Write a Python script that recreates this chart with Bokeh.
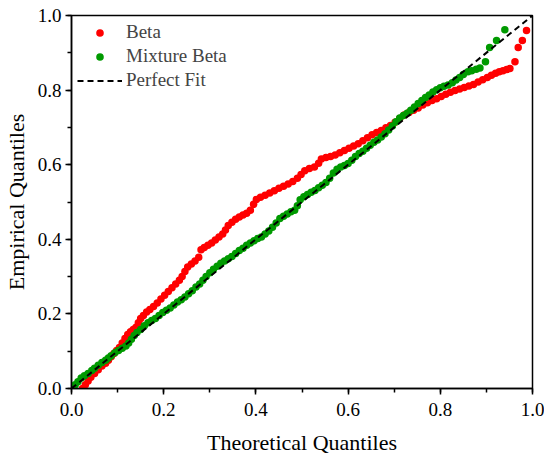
from bokeh.plotting import figure
from bokeh.models import Range1d, SingleIntervalTicker, NumeralTickFormatter, Legend, LegendItem
from bokeh.embed import file_html
from bokeh.resources import INLINE

beta_x = [0.024,0.030,0.036,0.042,0.050,0.058,0.066,0.074,0.080,0.086,0.092,0.098,0.104,0.110,0.116,0.122,0.128,0.134,0.140,0.145,0.150,0.156,0.163,0.170,0.178,0.186,0.194,0.202,0.210,0.218,0.226,0.234,0.240,0.246,0.252,0.260,0.268,0.276,0.281,0.288,0.296,0.304,0.312,0.320,0.328,0.334,0.340,0.348,0.356,0.364,0.372,0.380,0.388,0.395,0.401,0.410,0.420,0.430,0.440,0.450,0.460,0.470,0.480,0.490,0.498,0.506,0.516,0.527,0.536,0.542,0.552,0.562,0.572,0.582,0.592,0.602,0.612,0.622,0.632,0.642,0.652,0.662,0.672,0.682,0.692,0.702,0.712,0.722,0.732,0.742,0.752,0.762,0.772,0.782,0.792,0.802,0.812,0.822,0.832,0.842,0.852,0.862,0.872,0.882,0.892,0.902,0.911,0.920,0.928,0.936,0.944,0.951,0.962,0.969,0.978,0.987]
beta_y = [0.000,0.010,0.020,0.030,0.040,0.050,0.060,0.068,0.076,0.085,0.094,0.102,0.110,0.122,0.134,0.145,0.152,0.158,0.164,0.176,0.188,0.196,0.205,0.212,0.220,0.229,0.240,0.250,0.260,0.270,0.280,0.290,0.300,0.314,0.326,0.334,0.342,0.352,0.372,0.378,0.384,0.390,0.398,0.406,0.414,0.425,0.437,0.446,0.454,0.460,0.465,0.470,0.478,0.494,0.507,0.513,0.518,0.524,0.530,0.537,0.542,0.548,0.555,0.564,0.574,0.584,0.590,0.594,0.604,0.615,0.619,0.622,0.626,0.632,0.638,0.644,0.650,0.656,0.664,0.672,0.680,0.686,0.692,0.699,0.705,0.714,0.724,0.733,0.740,0.746,0.752,0.760,0.766,0.772,0.777,0.783,0.789,0.794,0.799,0.803,0.807,0.811,0.815,0.822,0.828,0.834,0.840,0.845,0.849,0.852,0.855,0.858,0.876,0.914,0.933,0.960]

mix_x = [0.003,0.008,0.014,0.021,0.028,0.036,0.044,0.050,0.058,0.066,0.074,0.080,0.086,0.094,0.102,0.110,0.118,0.124,0.130,0.136,0.142,0.150,0.158,0.166,0.174,0.182,0.190,0.198,0.206,0.214,0.222,0.230,0.238,0.246,0.254,0.262,0.270,0.278,0.285,0.292,0.300,0.308,0.316,0.324,0.332,0.340,0.348,0.356,0.364,0.372,0.380,0.388,0.396,0.404,0.412,0.420,0.428,0.436,0.444,0.452,0.460,0.468,0.476,0.484,0.490,0.496,0.504,0.512,0.520,0.528,0.536,0.544,0.552,0.560,0.568,0.576,0.584,0.592,0.600,0.608,0.616,0.624,0.632,0.640,0.648,0.656,0.664,0.672,0.680,0.688,0.696,0.704,0.712,0.720,0.728,0.736,0.744,0.752,0.760,0.768,0.776,0.784,0.792,0.800,0.808,0.817,0.826,0.834,0.842,0.850,0.860,0.868,0.878,0.886,0.898,0.907,0.922,0.940]
mix_y = [0.000,0.010,0.018,0.028,0.034,0.040,0.048,0.054,0.062,0.070,0.076,0.082,0.088,0.096,0.102,0.108,0.114,0.122,0.132,0.142,0.150,0.158,0.168,0.176,0.182,0.188,0.196,0.204,0.210,0.216,0.224,0.232,0.238,0.245,0.254,0.262,0.272,0.280,0.290,0.300,0.310,0.320,0.328,0.336,0.342,0.348,0.354,0.362,0.370,0.376,0.384,0.390,0.396,0.402,0.406,0.414,0.422,0.432,0.444,0.456,0.462,0.468,0.474,0.478,0.490,0.506,0.514,0.520,0.526,0.531,0.538,0.545,0.552,0.564,0.578,0.588,0.594,0.598,0.603,0.612,0.622,0.630,0.636,0.644,0.652,0.660,0.666,0.674,0.683,0.693,0.704,0.715,0.725,0.732,0.738,0.746,0.755,0.764,0.772,0.780,0.787,0.795,0.801,0.806,0.810,0.814,0.820,0.827,0.834,0.842,0.849,0.852,0.856,0.859,0.876,0.914,0.933,0.962]

fit_x = [0.0, 1.0]
fit_y = [0.0, 1.0]

series_labels = ["Beta", "Mixture Beta", "Perfect Fit"]
x_title = "Theoretical Quantiles"
y_title = "Empirical Quantiles"

FONT = "Liberation Serif"

p = figure(frame_width=461, frame_height=373, output_backend="svg", toolbar_location=None,
           x_range=Range1d(0, 1), y_range=Range1d(0, 1),
           min_border_left=70, min_border_right=12, min_border_top=15, min_border_bottom=66)

p.grid.visible = False
p.outline_line_color = "black"
p.outline_line_width = 1.5
p.outline_line_alpha = 1.0

r_beta = p.scatter(beta_x, beta_y, size=7.5, color="#ff0000", line_color=None)
r_mix = p.scatter(mix_x, mix_y, size=7.5, color="#009a00", line_color=None)
r_fit = p.line(fit_x, fit_y, line_color="black", line_width=2, line_dash="6 4")

for ax in (p.xaxis[0], p.yaxis[0]):
    ax.ticker = SingleIntervalTicker(interval=0.2, num_minor_ticks=2)
    ax.formatter = NumeralTickFormatter(format="0.0")
    ax.axis_line_color = "black"
    ax.axis_line_width = 1.5
    ax.major_tick_line_color = "black"
    ax.major_tick_line_width = 1.5
    ax.minor_tick_line_color = "black"
    ax.minor_tick_line_width = 1.5
    ax.major_tick_out = 6
    ax.major_tick_in = 0
    ax.minor_tick_out = 4
    ax.minor_tick_in = 0
    ax.major_label_text_font = FONT
    ax.major_label_text_font_size = "19px"
    ax.major_label_text_color = "black"
    ax.axis_label_text_font = FONT
    ax.axis_label_text_font_size = "22px"
    ax.axis_label_text_font_style = "normal"
    ax.axis_label_text_color = "black"

p.xaxis[0].axis_label = x_title
p.yaxis[0].axis_label = y_title
p.xaxis[0].major_label_standoff = 8
p.xaxis[0].axis_label_standoff = 11
p.yaxis[0].major_label_standoff = 4
p.yaxis[0].axis_label_standoff = 6

legend = Legend(items=[LegendItem(label=series_labels[0], renderers=[r_beta]),
                       LegendItem(label=series_labels[1], renderers=[r_mix]),
                       LegendItem(label=series_labels[2], renderers=[r_fit])],
                location="top_left")
legend.margin = 6
legend.padding = 6
legend.spacing = 2
legend.glyph_width = 45
legend.glyph_height = 19
legend.label_height = 19
legend.label_standoff = 4
legend.label_text_font = FONT
legend.label_text_font_size = "19px"
legend.border_line_color = None
legend.background_fill_alpha = 0
p.add_layout(legend)

open("out.html", "w").write(file_html(p, INLINE))
